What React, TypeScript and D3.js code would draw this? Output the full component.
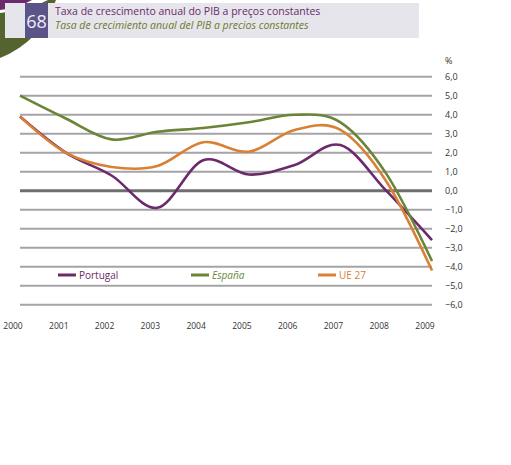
import React from 'react';
import * as d3 from 'd3';

const years = ['2000', '2001', '2002', '2003', '2004', '2005', '2006', '2007', '2008', '2009'];
const portugal = [3.9, 2.0, 0.8, -0.9, 1.6, 0.85, 1.35, 2.4, 0.0, -2.6];
const espana = [5.0, 3.8, 2.7, 3.1, 3.3, 3.6, 4.0, 3.6, 0.9, -3.7];
const ue27 = [3.9, 2.0, 1.25, 1.3, 2.55, 2.05, 3.2, 3.2, 0.5, -4.2];
const yTicks = [6, 5, 4, 3, 2, 1, 0, -1, -2, -3, -4, -5, -6];

const series = [
  { name: 'Portugal', values: portugal, color: '#6b2a6b', italic: false, lx: 58 },
  { name: 'España', values: espana, color: '#6a8538', italic: true, lx: 191 },
  { name: 'UE 27', values: ue27, color: '#d98035', italic: false, lx: 318 },
];

const font = '"Open Sans", "DejaVu Sans", sans-serif';

const App: React.FC = () => {
  const x = d3.scalePoint<string>().domain(years).range([20, 432]);
  const y = d3.scaleLinear().domain([-6, 6]).range([304.7, 76.7]);

  const line = d3.line<number>()
    .x((_, i) => x(years[i]) ?? 0)
    .y(d => y(d))
    .curve(d3.curveCardinal.tension(0));

  return (
    <svg width={511} height={465} style={{ position: 'absolute', left: 0, top: 0, background: '#fff' }}>
      {/* corner decoration */}
      <path d="M0,0 L32,0 Q18,8 0,10 Z" fill="#6b2a6b" />
      <path d="M0,13 Q30,10 48,0 L56,0 Q40,42 0,58 Z" fill="#55632f" />

      {/* header */}
      <rect x={5} y={3} width={414} height={35} fill="#e6e5eb" />
      <rect x={25} y={3} width={23} height={35} fill="#5b5488" />
      <text x={36.5} y={28} textAnchor="middle" fill="#eeeef5" fontSize={18} fontFamily={font}>68</text>
      <text x={55} y={15} fill="#6b2a6b" fontSize={10.5} fontFamily={font}>Taxa de crescimento anual do PIB a preços constantes</text>
      <text x={55} y={28.5} fill="#6a7a2e" fontSize={10.5} fontStyle="italic" fontFamily={font}>Tasa de crecimiento anual del PIB a precios constantes</text>

      {/* grid */}
      {yTicks.map(t => (
        <g key={t}>
          <line x1={20} x2={432} y1={y(t)} y2={y(t)}
            stroke={t === 0 ? '#6e6e6e' : '#a4a4a8'} strokeWidth={t === 0 ? 3 : 2} />
          <text x={445} y={y(t) + 3.5} fontSize={9} fill="#333" fontFamily={font}>
            {(t === 0 ? '0,0' : d3.format('.1f')(t).replace('.', ','))}
          </text>
        </g>
      ))}
      <text x={445} y={64} fontSize={9} fill="#333" fontFamily={font}>%</text>

      {/* x labels */}
      {years.map(yr => (
        <text key={yr} x={(x(yr) ?? 0) - 7} y={329} textAnchor="middle" fontSize={8.5}
          fill="#333" fontFamily={font}>{yr}</text>
      ))}

      {/* lines */}
      {series.map(s => (
        <path key={s.name} d={line(s.values) ?? ''} fill="none" stroke={s.color} strokeWidth={2.6} strokeLinejoin="round" />
      ))}

      {/* legend */}
      {series.map(s => (
        <g key={'lg' + s.name}>
          <line x1={s.lx} x2={s.lx + 18} y1={275} y2={275} stroke={s.color} strokeWidth={3} />
          <text x={s.lx + 21} y={278.5} fontSize={10} fill={s.color} fontStyle={s.italic ? 'italic' : 'normal'}
            fontFamily={font}>{s.name}</text>
        </g>
      ))}
    </svg>
  );
};

export default App;
